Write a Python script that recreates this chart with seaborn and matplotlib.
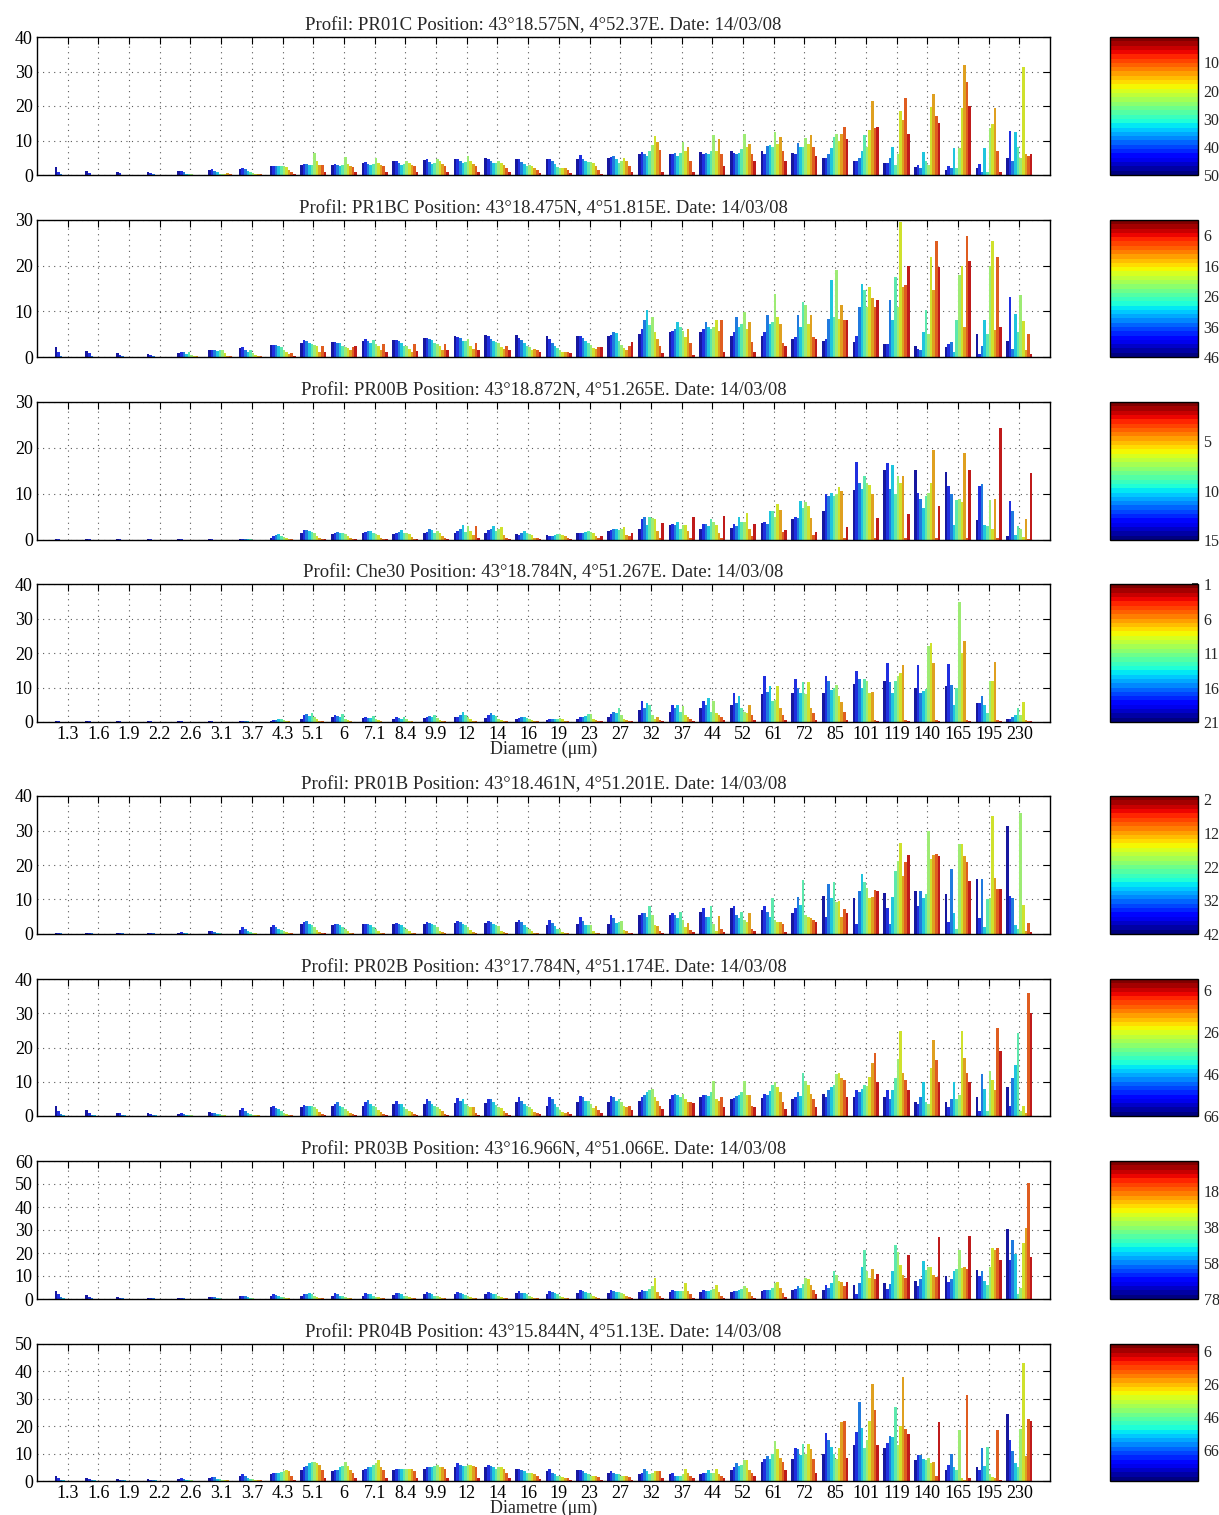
import numpy as np
import pandas as pd
import matplotlib
matplotlib.use('Agg')
import matplotlib.pyplot as plt
import seaborn as sns
from matplotlib.colors import ListedColormap, Normalize
from matplotlib.cm import ScalarMappable

diam_labels = ['1.3', '1.6', '1.9', '2.2', '2.6', '3.1', '3.7', '4.3', '5.1', '6',
               '7.1', '8.4', '9.9', '12', '14', '16', '19', '23', '27', '32', '37',
               '44', '52', '61', '72', '85', '101', '119', '140', '165', '195', '230']

titles = [
    'Profil: PR01C Position: 43°18.575N, 4°52.37E. Date: 14/03/08',
    'Profil: PR1BC Position: 43°18.475N, 4°51.815E. Date: 14/03/08',
    'Profil: PR00B Position: 43°18.872N, 4°51.265E. Date: 14/03/08',
    'Profil: Che30 Position: 43°18.784N, 4°51.267E. Date: 14/03/08',
    'Profil: PR01B Position: 43°18.461N, 4°51.201E. Date: 14/03/08',
    'Profil: PR02B Position: 43°17.784N, 4°51.174E. Date: 14/03/08',
    'Profil: PR03B Position: 43°16.966N, 4°51.066E. Date: 14/03/08',
    'Profil: PR04B Position: 43°15.844N, 4°51.13E. Date: 14/03/08',
]

# volume concentration per diameter class, 10 depth classes (deep -> surface)
pr01c = [
    [2.3, 1.0, 0.2, 0.1, 0.1, 0.1, 0.1, 0.1, 0.1, 0.1],
    [1.3, 0.6, 0.1, 0.1, 0.1, 0.1, 0.1, 0.1, 0.1, 0.1],
    [0.8, 0.5, 0.1, 0.1, 0.1, 0.1, 0.1, 0.1, 0.1, 0.1],
    [0.8, 0.6, 0.2, 0.1, 0.1, 0.1, 0.1, 0.1, 0.1, 0.1],
    [1.2, 1.3, 0.8, 0.3, 0.2, 0.2, 0.1, 0.1, 0.1, 0.1],
    [1.4, 1.6, 1.2, 0.8, 0.4, 0.3, 0.3, 0.5, 0.3, 0.1],
    [1.8, 2.0, 1.8, 1.3, 0.8, 0.6, 0.4, 0.3, 0.2, 0.1],
    [2.5, 2.6, 2.7, 2.5, 2.7, 2.5, 2.3, 1.5, 0.8, 0.3],
    [3.0, 3.3, 3.2, 3.0, 3.0, 6.5, 4.2, 3.0, 2.8, 1.0],
    [3.0, 3.2, 2.8, 2.5, 3.0, 5.2, 3.2, 2.5, 2.4, 1.0],
    [3.5, 3.8, 3.2, 2.8, 3.3, 5.0, 3.5, 3.0, 2.5, 1.0],
    [4.0, 4.2, 3.5, 3.0, 3.2, 4.2, 3.5, 3.0, 2.5, 1.0],
    [4.3, 4.5, 3.8, 3.2, 3.5, 4.6, 4.2, 3.2, 2.5, 1.0],
    [4.5, 4.6, 4.0, 3.5, 3.8, 5.5, 4.0, 3.2, 2.5, 1.0],
    [4.8, 4.7, 4.2, 3.5, 3.5, 4.0, 3.5, 3.0, 2.0, 1.0],
    [4.5, 4.5, 3.8, 3.2, 2.5, 2.8, 2.5, 2.0, 1.5, 0.5],
    [4.6, 4.5, 4.0, 3.2, 2.2, 2.0, 2.0, 2.0, 1.5, 0.5],
    [4.6, 5.8, 4.5, 4.0, 3.8, 3.8, 3.5, 2.5, 1.5, 0.3],
    [5.0, 5.2, 5.5, 4.5, 3.5, 4.2, 5.0, 4.0, 2.5, 1.0],
    [6.0, 6.8, 6.0, 5.5, 7.0, 8.8, 11.3, 9.5, 7.3, 1.0],
    [6.0, 6.0, 6.5, 5.5, 6.5, 9.5, 7.0, 8.0, 4.0, 1.0],
    [6.8, 6.0, 6.5, 6.0, 7.0, 11.5, 7.0, 10.5, 6.0, 2.5],
    [7.0, 6.5, 6.0, 6.5, 7.5, 12.0, 8.0, 9.0, 6.0, 4.0],
    [7.0, 6.0, 8.3, 8.8, 8.0, 12.4, 9.0, 11.0, 7.0, 4.0],
    [6.4, 6.0, 9.3, 8.0, 8.0, 10.8, 9.0, 11.5, 8.0, 5.5],
    [5.0, 5.0, 6.0, 7.8, 11.0, 11.8, 10.0, 12.0, 14.0, 10.5],
    [4.0, 4.2, 5.0, 7.0, 11.5, 8.0, 13.0, 21.4, 13.7, 14.0],
    [3.4, 3.5, 5.0, 8.0, 3.0, 6.0, 18.6, 16.0, 22.3, 12.0],
    [2.2, 3.0, 2.0, 6.7, 4.0, 3.0, 19.8, 23.4, 17.0, 15.0],
    [1.5, 2.6, 2.0, 7.8, 2.0, 7.8, 19.3, 32.0, 27.0, 20.0],
    [2.0, 3.2, 1.0, 7.7, 1.0, 13.7, 14.7, 19.5, 7.0, 1.0],
    [5.0, 12.7, 4.0, 12.4, 8.0, 5.0, 31.4, 6.2, 5.5, 6.0],
]

pr1bc = [
    [2.1, 1.0, 0.3, 0.1, 0.1, 0.1, 0.1, 0.1, 0.1, 0.1],
    [1.4, 0.8, 0.2, 0.1, 0.1, 0.1, 0.1, 0.1, 0.1, 0.1],
    [0.8, 0.5, 0.2, 0.1, 0.1, 0.1, 0.1, 0.1, 0.1, 0.1],
    [0.7, 0.5, 0.2, 0.1, 0.1, 0.1, 0.1, 0.1, 0.1, 0.1],
    [0.8, 1.0, 1.0, 0.6, 1.2, 0.4, 0.3, 0.2, 0.1, 0.1],
    [1.5, 1.5, 1.5, 1.3, 1.5, 1.6, 0.8, 0.3, 0.2, 0.1],
    [2.0, 2.1, 1.5, 1.2, 1.6, 0.8, 0.5, 0.3, 0.2, 0.1],
    [2.6, 2.6, 2.7, 2.5, 2.2, 1.5, 1.0, 0.6, 0.8, 0.3],
    [3.0, 3.8, 3.6, 3.0, 2.8, 2.6, 2.4, 1.2, 2.5, 1.0],
    [3.2, 3.2, 3.1, 3.0, 2.5, 2.2, 2.0, 1.5, 2.2, 2.3],
    [3.5, 3.9, 3.5, 3.0, 3.7, 2.8, 2.5, 1.5, 2.8, 1.2],
    [3.7, 3.8, 3.6, 3.0, 2.5, 2.3, 1.8, 1.2, 2.8, 1.3],
    [4.2, 4.1, 4.0, 3.8, 3.0, 2.8, 2.4, 1.5, 2.8, 1.5],
    [4.5, 4.4, 4.2, 3.6, 3.5, 4.0, 2.5, 1.8, 3.0, 1.5],
    [4.8, 4.5, 4.0, 3.5, 3.3, 3.0, 2.2, 1.8, 2.5, 1.5],
    [4.9, 4.2, 3.8, 3.0, 2.5, 2.2, 1.5, 1.8, 1.5, 1.0],
    [4.7, 4.0, 3.0, 2.5, 2.0, 1.5, 1.2, 1.0, 1.0, 0.8],
    [4.7, 4.6, 4.2, 3.5, 3.0, 2.6, 2.0, 1.8, 2.2, 2.2],
    [4.5, 4.8, 5.5, 5.2, 3.5, 2.6, 2.0, 1.5, 2.5, 3.3],
    [5.0, 6.2, 8.0, 10.2, 7.0, 8.8, 5.5, 4.0, 2.5, 0.8],
    [5.5, 5.8, 6.2, 7.7, 6.5, 5.8, 4.4, 6.2, 3.0, 0.4],
    [5.5, 6.2, 7.7, 6.5, 6.2, 6.5, 8.0, 5.8, 8.2, 1.0],
    [4.7, 5.5, 8.8, 6.5, 7.3, 9.9, 6.2, 7.7, 3.3, 1.0],
    [4.7, 5.5, 9.1, 7.3, 7.7, 13.9, 8.8, 7.3, 3.0, 2.5],
    [4.0, 4.4, 9.1, 6.5, 12.0, 11.3, 7.3, 9.1, 4.4, 4.0],
    [3.6, 4.0, 8.4, 16.8, 8.8, 19.0, 8.4, 11.3, 8.0, 8.0],
    [3.3, 4.7, 11.0, 16.0, 14.6, 11.0, 15.3, 13.0, 11.0, 12.4],
    [2.9, 2.9, 12.5, 8.0, 17.5, 11.0, 29.6, 15.3, 15.7, 20.0],
    [2.5, 1.8, 1.5, 5.5, 10.2, 5.0, 21.9, 14.6, 25.4, 19.7],
    [2.2, 2.9, 3.3, 1.0, 8.0, 18.0, 20.0, 6.6, 26.6, 21.0],
    [5.0, 0.7, 2.5, 8.0, 5.0, 20.0, 25.5, 6.0, 21.9, 6.6],
    [3.6, 13.1, 1.8, 9.5, 5.5, 13.5, 7.9, 1.5, 5.1, 0.6],
]

pr00b = [
    [0.2, 0.2, 0.1, 0.1, 0.1, 0.1, 0.1, 0.1, 0.1, 0.1],
    [0.2, 0.2, 0.1, 0.1, 0.1, 0.1, 0.1, 0.1, 0.1, 0.1],
    [0.2, 0.2, 0.1, 0.1, 0.1, 0.1, 0.1, 0.1, 0.1, 0.1],
    [0.2, 0.2, 0.1, 0.1, 0.1, 0.1, 0.1, 0.1, 0.1, 0.1],
    [0.2, 0.2, 0.1, 0.1, 0.1, 0.1, 0.1, 0.1, 0.1, 0.1],
    [0.2, 0.2, 0.1, 0.1, 0.1, 0.1, 0.1, 0.1, 0.1, 0.1],
    [0.2, 0.3, 0.3, 0.2, 0.2, 0.1, 0.1, 0.1, 0.1, 0.1],
    [0.5, 0.8, 1.0, 1.2, 0.8, 0.6, 0.4, 0.3, 0.2, 0.1],
    [1.5, 2.2, 2.2, 2.0, 1.8, 1.5, 0.8, 0.5, 0.3, 0.2],
    [1.3, 1.5, 1.7, 1.5, 1.5, 1.2, 0.8, 0.5, 0.3, 0.2],
    [1.5, 1.8, 2.0, 2.0, 1.5, 1.3, 1.0, 0.5, 0.3, 0.2],
    [1.2, 1.5, 1.8, 2.2, 1.5, 1.5, 1.2, 0.6, 0.3, 0.3],
    [1.5, 1.8, 2.5, 2.2, 1.5, 2.0, 1.5, 0.8, 0.5, 0.3],
    [1.5, 2.0, 2.5, 3.2, 1.8, 3.0, 2.0, 1.0, 3.0, 0.5],
    [1.5, 2.2, 2.5, 3.0, 2.0, 2.5, 2.8, 1.0, 0.5, 0.3],
    [1.2, 1.0, 1.5, 2.0, 1.5, 1.3, 1.0, 0.5, 0.5, 0.3],
    [1.0, 0.8, 0.8, 1.0, 1.3, 1.2, 1.0, 0.8, 0.5, 0.3],
    [1.5, 1.6, 1.6, 1.8, 2.0, 1.8, 1.5, 0.8, 0.5, 0.8],
    [2.0, 2.2, 2.5, 2.5, 2.2, 2.5, 2.8, 1.0, 0.8, 1.5],
    [2.5, 4.5, 5.0, 3.3, 5.0, 4.8, 4.6, 2.0, 0.5, 3.8],
    [3.3, 3.5, 3.3, 4.0, 2.5, 3.3, 3.3, 2.0, 0.5, 5.0],
    [2.5, 3.5, 3.5, 3.0, 4.5, 4.0, 3.2, 1.5, 0.5, 5.2],
    [2.7, 3.5, 3.0, 5.0, 4.0, 4.0, 5.8, 2.5, 0.8, 3.5],
    [3.8, 4.0, 3.5, 6.2, 6.3, 5.0, 7.9, 6.5, 1.8, 2.2],
    [4.5, 5.0, 4.8, 8.4, 7.0, 8.2, 7.5, 4.8, 1.0, 1.8],
    [6.3, 10.0, 9.5, 10.3, 9.5, 10.0, 11.5, 10.7, 0.5, 2.8],
    [10.9, 17.0, 12.4, 11.0, 13.9, 12.5, 12.0, 10.0, 0.5, 4.8],
    [15.2, 16.8, 11.0, 16.3, 10.0, 14.0, 12.5, 14.0, 0.5, 5.7],
    [15.2, 10.2, 9.0, 7.0, 9.5, 10.2, 12.5, 19.6, 0.5, 7.3],
    [14.8, 11.8, 10.0, 3.2, 8.8, 9.0, 8.3, 18.9, 0.5, 15.3],
    [4.3, 11.8, 12.2, 3.2, 3.0, 8.8, 2.5, 9.0, 0.5, 24.3],
    [0.8, 8.4, 6.2, 1.0, 3.0, 2.5, 0.7, 4.6, 0.3, 14.5],
]

che30 = [
    [0.2, 0.2, 0.1, 0.1, 0.1, 0.1, 0.1, 0.1, 0.1, 0.1],
    [0.2, 0.2, 0.1, 0.1, 0.1, 0.1, 0.1, 0.1, 0.1, 0.1],
    [0.2, 0.2, 0.1, 0.1, 0.1, 0.1, 0.1, 0.1, 0.1, 0.1],
    [0.2, 0.2, 0.1, 0.1, 0.1, 0.1, 0.1, 0.1, 0.1, 0.1],
    [0.2, 0.2, 0.1, 0.1, 0.1, 0.1, 0.1, 0.1, 0.1, 0.1],
    [0.2, 0.2, 0.1, 0.1, 0.1, 0.1, 0.1, 0.1, 0.1, 0.1],
    [0.2, 0.2, 0.2, 0.2, 0.1, 0.1, 0.1, 0.1, 0.1, 0.1],
    [0.3, 0.5, 0.6, 0.8, 0.8, 0.5, 0.3, 0.2, 0.1, 0.1],
    [1.0, 2.0, 2.2, 1.8, 2.5, 1.5, 1.0, 0.3, 0.2, 0.1],
    [1.5, 2.0, 1.7, 1.5, 2.2, 1.0, 0.5, 0.2, 0.1, 0.1],
    [1.2, 1.5, 1.3, 1.2, 1.8, 1.0, 0.5, 0.2, 0.1, 0.1],
    [1.0, 1.5, 1.2, 1.0, 1.5, 1.0, 0.4, 0.2, 0.1, 0.1],
    [1.2, 1.5, 1.8, 1.5, 2.0, 1.3, 0.6, 0.3, 0.2, 0.1],
    [1.5, 1.5, 2.0, 2.8, 2.0, 1.5, 0.8, 0.3, 0.2, 0.1],
    [1.3, 2.0, 2.5, 2.0, 1.8, 1.0, 0.5, 0.3, 0.2, 0.1],
    [1.0, 1.2, 1.5, 1.5, 1.3, 1.0, 0.6, 0.3, 0.2, 0.1],
    [0.5, 0.8, 0.8, 0.8, 1.0, 1.2, 0.8, 0.3, 0.2, 0.1],
    [1.0, 1.5, 1.5, 1.8, 2.4, 2.4, 1.0, 0.5, 0.3, 0.2],
    [1.5, 2.2, 2.8, 2.5, 4.2, 2.0, 1.0, 0.5, 0.3, 0.2],
    [3.5, 6.0, 4.0, 5.5, 5.0, 2.0, 1.0, 1.5, 0.5, 0.2],
    [3.0, 5.0, 4.2, 5.0, 3.0, 4.5, 2.0, 1.5, 0.8, 0.2],
    [4.0, 6.0, 5.0, 7.0, 3.0, 6.0, 2.5, 2.0, 1.5, 0.5],
    [5.0, 8.5, 5.5, 7.5, 4.0, 3.0, 2.5, 5.0, 2.0, 0.5],
    [8.0, 13.3, 8.8, 10.5, 6.0, 6.5, 10.3, 4.0, 2.0, 0.5],
    [8.5, 12.5, 10.0, 8.5, 11.5, 8.0, 11.5, 4.0, 2.5, 0.5],
    [8.5, 13.3, 11.8, 9.4, 9.8, 10.7, 7.6, 5.8, 3.0, 0.5],
    [11.0, 14.8, 12.5, 10.0, 12.5, 12.0, 8.5, 8.8, 0.5, 0.3],
    [12.0, 17.2, 11.5, 8.5, 12.0, 13.2, 14.2, 16.4, 0.5, 0.3],
    [10.0, 16.4, 8.5, 9.0, 9.5, 22.0, 22.8, 17.0, 0.5, 0.3],
    [10.5, 16.7, 10.6, 5.0, 10.0, 34.7, 20.0, 23.5, 0.5, 0.3],
    [5.5, 5.5, 7.5, 5.0, 2.5, 12.0, 12.0, 17.5, 0.5, 0.3],
    [1.0, 1.0, 1.5, 2.0, 4.0, 2.0, 5.8, 0.5, 0.3, 0.2],
]

pr01b = [
    [0.4, 0.3, 0.2, 0.1, 0.1, 0.1, 0.1, 0.1, 0.1, 0.1],
    [0.3, 0.3, 0.2, 0.1, 0.1, 0.1, 0.1, 0.1, 0.1, 0.1],
    [0.3, 0.3, 0.2, 0.1, 0.1, 0.1, 0.1, 0.1, 0.1, 0.1],
    [0.3, 0.3, 0.2, 0.1, 0.1, 0.1, 0.1, 0.1, 0.1, 0.1],
    [0.4, 0.5, 0.3, 0.2, 0.1, 0.1, 0.1, 0.1, 0.1, 0.1],
    [0.8, 1.0, 0.6, 0.3, 0.2, 0.1, 0.1, 0.1, 0.1, 0.1],
    [1.2, 2.0, 1.5, 0.8, 0.5, 0.3, 0.2, 0.1, 0.1, 0.1],
    [2.0, 2.5, 2.0, 1.5, 1.2, 0.8, 0.5, 0.3, 0.2, 0.1],
    [3.0, 3.5, 3.8, 3.0, 2.5, 2.0, 1.2, 0.5, 0.3, 0.2],
    [2.5, 3.0, 2.8, 2.5, 2.0, 1.5, 0.8, 0.4, 0.2, 0.1],
    [2.8, 3.0, 3.0, 2.5, 2.0, 1.5, 0.8, 0.4, 0.2, 0.1],
    [2.8, 3.2, 3.0, 2.5, 2.0, 1.5, 0.8, 0.4, 0.2, 0.1],
    [3.0, 3.5, 3.2, 2.8, 2.5, 2.0, 1.0, 0.5, 0.2, 0.1],
    [3.2, 3.8, 3.5, 3.0, 2.5, 2.0, 1.2, 0.5, 0.2, 0.1],
    [3.2, 3.8, 3.5, 3.0, 2.5, 2.2, 1.0, 0.5, 0.2, 0.1],
    [3.5, 4.0, 3.5, 2.5, 2.0, 1.5, 0.8, 0.4, 0.2, 0.1],
    [2.5, 4.2, 3.2, 2.2, 1.5, 1.5, 0.5, 0.3, 0.2, 0.1],
    [3.0, 4.8, 3.8, 2.5, 2.5, 2.5, 0.8, 0.3, 0.2, 0.1],
    [3.0, 5.5, 4.5, 3.2, 3.5, 3.8, 1.2, 0.8, 0.3, 0.2],
    [5.5, 6.0, 6.2, 5.0, 8.2, 5.5, 2.5, 2.2, 0.8, 0.2],
    [5.5, 6.2, 5.5, 4.5, 6.5, 4.0, 2.0, 3.2, 1.2, 0.5],
    [6.5, 7.5, 5.0, 5.0, 8.0, 3.0, 1.0, 5.3, 1.5, 0.5],
    [7.5, 8.2, 5.5, 4.5, 6.5, 4.2, 3.5, 6.0, 1.5, 0.8],
    [7.0, 8.0, 6.5, 5.0, 10.3, 4.0, 3.5, 3.5, 3.0, 0.5],
    [6.0, 7.5, 10.8, 8.5, 15.7, 5.5, 5.0, 4.5, 4.0, 3.5],
    [11.0, 4.8, 14.6, 10.4, 15.0, 9.2, 9.5, 5.0, 7.3, 6.0],
    [10.5, 3.0, 12.5, 17.5, 15.0, 13.2, 10.5, 10.8, 12.8, 12.5],
    [12.0, 7.5, 3.0, 10.6, 18.3, 21.2, 26.3, 16.9, 21.0, 23.0],
    [12.5, 8.0, 12.5, 10.5, 11.5, 30.0, 21.8, 23.0, 23.3, 22.6],
    [11.5, 3.5, 18.8, 6.0, 1.5, 26.1, 26.1, 22.5, 21.0, 15.5],
    [15.8, 4.5, 15.8, 2.0, 10.0, 10.5, 34.2, 16.3, 13.0, 12.9],
    [31.2, 11.0, 10.5, 2.5, 1.5, 35.2, 8.3, 1.0, 3.2, 0.5],
]

pr02b = [
    [3.0, 1.5, 0.5, 0.2, 0.1, 0.1, 0.1, 0.1, 0.1, 0.1],
    [1.8, 1.0, 0.3, 0.2, 0.1, 0.1, 0.1, 0.1, 0.1, 0.1],
    [1.0, 0.8, 0.3, 0.2, 0.1, 0.1, 0.1, 0.1, 0.1, 0.1],
    [0.8, 0.6, 0.3, 0.2, 0.1, 0.1, 0.1, 0.1, 0.1, 0.1],
    [0.7, 0.8, 0.6, 0.4, 0.3, 0.2, 0.1, 0.1, 0.1, 0.1],
    [1.2, 1.0, 0.8, 0.6, 0.5, 0.3, 0.2, 0.1, 0.1, 0.1],
    [1.8, 2.2, 1.5, 1.0, 0.6, 0.4, 0.3, 0.2, 0.1, 0.1],
    [2.5, 2.8, 2.3, 2.0, 1.5, 1.0, 0.5, 0.3, 0.2, 0.1],
    [2.5, 3.2, 3.0, 3.0, 2.8, 2.5, 2.0, 1.2, 0.5, 0.2],
    [3.0, 3.5, 4.0, 3.0, 2.5, 2.0, 1.5, 1.0, 0.5, 0.2],
    [3.0, 4.0, 4.7, 3.5, 3.0, 2.5, 1.8, 1.2, 0.5, 0.2],
    [3.5, 4.5, 3.5, 3.5, 2.5, 2.0, 1.5, 1.2, 0.5, 0.2],
    [3.5, 5.0, 4.5, 3.5, 3.0, 2.5, 2.0, 1.5, 0.5, 0.2],
    [3.8, 5.2, 4.5, 5.0, 3.5, 3.0, 2.5, 2.5, 0.8, 0.3],
    [3.8, 5.0, 5.0, 4.0, 3.2, 2.5, 2.2, 1.5, 0.8, 0.3],
    [4.0, 5.5, 4.5, 3.5, 2.8, 2.5, 2.0, 1.2, 0.8, 0.5],
    [3.0, 5.5, 5.0, 3.5, 2.5, 1.8, 1.2, 1.0, 1.2, 0.5],
    [4.0, 5.8, 5.5, 4.5, 4.5, 3.5, 2.2, 2.8, 1.8, 1.0],
    [4.0, 5.7, 5.5, 4.5, 5.0, 4.2, 3.0, 2.5, 2.8, 1.8],
    [4.5, 5.5, 6.0, 7.0, 7.5, 8.0, 5.5, 4.5, 3.0, 2.0],
    [5.0, 6.2, 6.5, 6.0, 5.5, 6.5, 5.0, 4.0, 4.2, 3.8],
    [5.5, 6.0, 6.0, 5.8, 7.0, 10.2, 5.0, 4.5, 5.5, 2.5],
    [5.0, 5.3, 5.8, 6.2, 7.0, 10.3, 6.0, 6.0, 3.0, 2.5],
    [5.2, 6.5, 6.0, 7.2, 9.0, 10.0, 8.5, 7.0, 4.0, 2.0],
    [5.0, 5.5, 7.0, 5.8, 12.5, 10.2, 9.0, 6.5, 5.0, 2.5],
    [6.5, 5.5, 7.5, 8.5, 9.0, 12.3, 12.6, 11.0, 10.5, 5.5],
    [5.5, 7.5, 7.0, 8.0, 9.0, 8.7, 11.3, 15.5, 18.5, 10.0],
    [5.5, 7.5, 5.0, 7.5, 11.0, 16.5, 24.8, 12.5, 10.5, 7.5],
    [4.0, 3.5, 5.5, 10.0, 4.0, 3.5, 14.0, 22.3, 16.4, 10.0],
    [4.0, 2.5, 5.0, 10.0, 5.0, 6.0, 24.8, 17.0, 12.5, 10.0],
    [5.5, 1.5, 12.3, 8.0, 1.5, 13.0, 10.5, 7.5, 25.8, 19.0],
    [8.5, 3.0, 11.0, 15.0, 24.3, 1.5, 3.0, 1.0, 36.0, 30.0],
]

pr03b = [
    [3.5, 2.0, 0.8, 0.3, 0.2, 0.1, 0.1, 0.1, 0.1, 0.1],
    [1.8, 1.0, 0.5, 0.2, 0.1, 0.1, 0.1, 0.1, 0.1, 0.1],
    [0.8, 0.6, 0.4, 0.2, 0.1, 0.1, 0.1, 0.1, 0.1, 0.1],
    [0.5, 0.5, 0.4, 0.2, 0.1, 0.1, 0.1, 0.1, 0.1, 0.1],
    [0.5, 0.5, 0.4, 0.2, 0.1, 0.1, 0.1, 0.1, 0.1, 0.1],
    [0.8, 1.0, 0.8, 0.5, 0.3, 0.2, 0.1, 0.1, 0.1, 0.1],
    [1.2, 1.5, 1.2, 0.8, 0.5, 0.3, 0.2, 0.1, 0.1, 0.1],
    [1.5, 2.2, 1.8, 1.2, 1.0, 0.8, 0.5, 0.3, 0.2, 0.1],
    [1.5, 2.2, 2.2, 2.5, 2.0, 1.5, 1.0, 0.5, 0.3, 0.2],
    [1.5, 2.5, 2.0, 1.5, 1.2, 0.8, 0.5, 0.3, 0.2, 0.1],
    [1.5, 2.5, 2.2, 2.0, 1.5, 1.0, 0.8, 0.5, 0.3, 0.1],
    [1.8, 2.5, 2.5, 2.0, 1.5, 1.2, 0.8, 0.5, 0.3, 0.2],
    [2.0, 3.0, 2.5, 2.2, 1.5, 1.3, 0.8, 0.5, 0.3, 0.2],
    [2.0, 3.0, 2.8, 2.2, 1.8, 1.5, 1.0, 0.5, 0.3, 0.2],
    [2.0, 3.2, 2.8, 2.2, 2.0, 1.5, 1.0, 0.5, 0.3, 0.2],
    [2.5, 3.5, 2.8, 2.5, 2.0, 1.5, 1.0, 0.5, 0.3, 0.2],
    [2.0, 3.5, 3.0, 2.5, 2.0, 1.5, 1.0, 0.5, 0.3, 0.2],
    [2.5, 3.8, 3.5, 3.0, 2.5, 2.0, 1.5, 0.8, 0.5, 0.2],
    [2.5, 3.8, 3.5, 3.2, 3.0, 2.8, 2.0, 1.5, 0.8, 0.3],
    [3.0, 3.8, 3.5, 3.5, 4.5, 5.5, 9.0, 3.0, 1.5, 0.5],
    [3.0, 4.0, 3.5, 3.5, 3.5, 3.5, 7.0, 3.5, 2.0, 0.5],
    [3.0, 4.0, 3.5, 3.5, 3.8, 4.5, 6.0, 3.0, 1.5, 0.5],
    [3.0, 3.5, 3.5, 3.8, 4.5, 5.5, 5.0, 3.0, 1.5, 0.5],
    [3.5, 4.0, 4.0, 4.0, 5.0, 7.0, 7.5, 5.0, 2.5, 1.0],
    [4.0, 4.5, 5.5, 5.0, 6.5, 9.0, 8.5, 6.0, 4.0, 2.0],
    [4.0, 6.0, 5.0, 7.0, 12.0, 10.5, 8.0, 7.5, 5.5, 7.5],
    [6.0, 2.0, 7.0, 14.0, 21.5, 12.0, 9.0, 13.0, 8.5, 11.0],
    [7.0, 4.5, 6.5, 12.0, 23.5, 20.5, 15.0, 10.5, 9.0, 19.0],
    [8.0, 5.5, 8.5, 16.5, 12.5, 14.0, 14.0, 10.5, 9.5, 27.0],
    [10.0, 7.5, 8.5, 12.0, 13.0, 21.5, 13.5, 14.0, 13.0, 27.5],
    [12.6, 10.0, 12.2, 8.0, 6.0, 14.0, 22.0, 21.5, 22.0, 17.0],
    [30.4, 17.0, 25.7, 19.7, 2.0, 4.6, 24.2, 30.7, 50.3, 18.4],
]

pr04b = [
    [1.8, 1.0, 0.3, 0.2, 0.1, 0.1, 0.1, 0.1, 0.1, 0.1],
    [1.2, 0.6, 0.3, 0.2, 0.1, 0.1, 0.1, 0.1, 0.1, 0.1],
    [0.8, 0.5, 0.3, 0.2, 0.1, 0.1, 0.1, 0.1, 0.1, 0.1],
    [0.6, 0.5, 0.4, 0.2, 0.1, 0.1, 0.1, 0.1, 0.1, 0.1],
    [0.8, 1.2, 0.6, 0.4, 0.3, 0.2, 0.1, 0.1, 0.1, 0.1],
    [1.2, 1.5, 1.5, 0.8, 0.6, 0.5, 0.3, 0.2, 0.1, 0.1],
    [1.8, 2.5, 2.0, 1.2, 0.8, 0.8, 0.5, 0.3, 0.2, 0.1],
    [2.5, 3.0, 3.0, 3.0, 3.2, 3.8, 4.0, 3.5, 2.0, 0.5],
    [4.0, 5.0, 5.5, 6.5, 7.0, 7.0, 6.5, 6.0, 4.0, 1.0],
    [3.5, 4.0, 4.0, 5.0, 5.5, 7.0, 5.5, 4.0, 3.0, 1.0],
    [4.0, 4.5, 5.0, 5.0, 6.0, 6.5, 7.5, 5.0, 4.0, 1.0],
    [4.0, 4.5, 4.5, 4.5, 4.5, 4.5, 4.5, 4.5, 3.5, 1.0],
    [4.5, 5.0, 5.0, 5.0, 5.5, 6.0, 5.0, 5.0, 4.5, 1.0],
    [5.0, 6.5, 6.0, 5.5, 5.5, 6.0, 6.0, 5.5, 5.0, 1.0],
    [5.0, 6.0, 5.5, 5.0, 4.5, 5.0, 5.0, 4.5, 3.0, 1.0],
    [4.5, 4.5, 4.0, 3.5, 3.0, 3.0, 3.0, 2.5, 2.0, 0.8],
    [3.5, 4.5, 3.0, 2.5, 2.0, 2.0, 1.5, 1.2, 1.0, 0.5],
    [4.0, 4.0, 3.5, 3.0, 2.5, 2.0, 2.0, 2.0, 1.5, 0.5],
    [3.0, 3.5, 3.0, 2.5, 2.5, 2.0, 2.0, 2.0, 1.5, 0.5],
    [2.5, 3.0, 4.5, 3.5, 2.5, 3.0, 3.5, 3.5, 3.5, 1.0],
    [2.5, 3.0, 2.0, 2.0, 2.0, 2.5, 4.5, 3.0, 2.0, 1.0],
    [2.5, 3.0, 3.0, 4.0, 3.0, 3.0, 4.5, 2.5, 2.0, 1.0],
    [4.0, 5.0, 6.5, 5.5, 6.0, 7.5, 7.5, 4.0, 3.0, 2.0],
    [7.0, 8.0, 9.0, 8.0, 10.0, 14.5, 11.5, 8.5, 7.0, 4.0],
    [8.0, 12.0, 11.5, 9.5, 13.5, 10.0, 13.5, 11.5, 8.0, 3.0],
    [10.0, 17.5, 15.0, 12.5, 10.0, 8.0, 12.0, 21.5, 22.0, 8.5],
    [13.0, 18.0, 28.7, 19.5, 12.0, 15.0, 22.0, 35.5, 26.0, 13.0],
    [12.0, 14.0, 16.5, 16.0, 27.0, 13.0, 20.0, 38.0, 19.0, 17.0],
    [7.5, 9.5, 9.5, 8.0, 7.5, 8.5, 6.5, 7.0, 2.0, 21.5],
    [4.0, 6.0, 10.0, 5.0, 4.0, 18.5, 1.0, 0.5, 31.5, 1.0],
    [5.0, 4.0, 12.0, 5.5, 12.5, 2.5, 1.5, 1.0, 18.5, 0.5],
    [24.5, 15.0, 11.0, 6.5, 5.0, 19.0, 43.0, 9.0, 22.5, 22.0],
]

profiles = [pr01c, pr1bc, pr00b, che30, pr01b, pr02b, pr03b, pr04b]
depth_range = [(1, 50), (1, 46), (1, 15), (1, 21), (1, 42), (1, 66), (1, 78), (2, 85)]
cbar_ticks = [[10, 20, 30, 40, 50], [6, 16, 26, 36, 46], [5, 10, 15], [1, 6, 11, 16, 21],
              [2, 12, 22, 32, 42], [6, 26, 46, 66], [18, 38, 58, 78], [6, 26, 46, 66]]
y_top = [40, 30, 30, 40, 40, 40, 60, 50]

depth_cls = ['d%d' % i for i in range(10)]

sns.set_theme(style='white')
plt.rcParams['font.family'] = ['Liberation Serif', 'DejaVu Serif']
plt.rcParams['font.size'] = 13

W, H = 1219, 1515
fig = plt.figure(figsize=(W / 100, H / 100), dpi=100)

palette = [plt.cm.jet(v) for v in np.linspace(0.05, 0.92, len(depth_cls))]
cb_cmap = ListedColormap(plt.cm.jet(np.linspace(0, 1, 32))[::-1])

# pixel boxes (top, bottom) of each panel
boxes = [(37, 175), (220, 357), (402, 540), (584, 722),
         (796, 934), (979, 1116), (1161, 1299), (1344, 1481)]


def to_frame(values):
    """Long table for seaborn: one row per diameter / depth class"""
    rows = []
    for lab, vals in zip(diam_labels, values):
        for cls, v in zip(depth_cls, vals):
            rows.append((lab, cls, v))
    return pd.DataFrame(rows, columns=['diam', 'depth', 'value'])


for i, (top, bot) in enumerate(boxes):
    ax = fig.add_axes([37 / W, 1 - bot / H, (1050 - 37) / W, (bot - top) / H])
    df = to_frame(profiles[i])
    sns.barplot(data=df, x='diam', y='value', hue='depth', order=diam_labels,
                hue_order=depth_cls, palette=palette, width=0.85, errorbar=None,
                linewidth=0, legend=False, ax=ax)
    ax.set_xlim(-1, 32)
    ax.set_ylim(0, y_top[i])
    ax.set_yticks(range(0, y_top[i] + 1, 10))
    ax.set_xticks(range(32))
    if i in (3, 7):
        ax.set_xticklabels(diam_labels)
        ax.set_xlabel('Diametre (μm)', fontsize=13, labelpad=-2)
    else:
        ax.set_xticklabels([])
        ax.set_xlabel('')
    ax.set_ylabel('')
    ax.grid(True, color='0.35', linestyle=(0, (1, 4)), linewidth=0.8)
    ax.set_axisbelow(True)
    ax.tick_params(direction='in', top=True, right=True, length=5, width=0.8,
                   labelsize=13, pad=3, colors='black')
    for sp in ax.spines.values():
        sp.set_visible(True)
        sp.set_color('black')
        sp.set_linewidth(1)
    ax.set_title(titles[i], fontsize=13.5, pad=5)

    # depth colorbar
    lo, hi = depth_range[i]
    cax = fig.add_axes([1110 / W, 1 - bot / H, 88 / W, (bot - top) / H])
    sm = ScalarMappable(norm=Normalize(lo, hi), cmap=cb_cmap)
    cb = fig.colorbar(sm, cax=cax)
    cax.invert_yaxis()
    cb.set_ticks(cbar_ticks[i])
    cax.tick_params(direction='in', length=4, labelsize=11.5, pad=4)
    cb.outline.set_linewidth(1)
    cb.outline.set_edgecolor('black')

fig.savefig('out.png', dpi=100)
